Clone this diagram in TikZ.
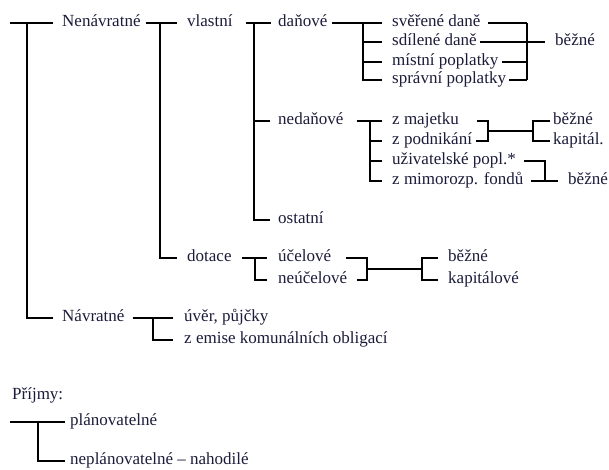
\documentclass[tikz,border=0pt]{standalone}
\usepackage{fontspec}
\setmainfont{Liberation Serif}
\usetikzlibrary{positioning,calc}
\definecolor{Ink}{HTML}{1B1B3A}
\tikzset{
  lbl/.style={anchor=west,inner sep=0pt,text height=10pt,text depth=4pt,text=Ink,
    font=\fontsize{17pt}{20pt}\selectfont},
  bar/.style={draw=black,line width=2.6pt},
  thinbar/.style={draw=black,line width=1.5pt},
  midbar/.style={draw=black,line width=2pt}
}
\begin{document}
\begin{tikzpicture}[x=1pt,y=-1pt]
    \useasboundingbox (0,0) rectangle (609,469);

    % texty
    \node[lbl] (nenavr) at (62,23) {Nenávratné};
    \node[lbl] (navr) at (62,318) {Návratné};
    \node[lbl] (vlastni) at (187,23) {vlastní};
    \node[lbl] (dotace) at (187,258) {dotace};
    \node[lbl] (uver) at (184,318) {úvěr, půjčky};
    \node[lbl] (emise) at (184,340) {z emise komunálních obligací};
    \node[lbl] (danove) at (278,23) {daňové};
    \node[lbl] (nedanove) at (278,121) {nedaňové};
    \node[lbl] (ostatni) at (278,220) {ostatní};
    \node[lbl] (ucelove) at (278,258) {účelové};
    \node[lbl] (neucelove) at (278,280) {neúčelové};
    \node[lbl] (sverene) at (392,23) {svěřené daně};
    \node[lbl] (sdilene) at (392,42) {sdílené daně};
    \node[lbl] (mistni) at (392,62) {místní poplatky};
    \node[lbl] (spravni) at (392,80) {správní poplatky};
    \node[lbl] (majetek) at (392,121) {z majetku};
    \node[lbl] (podnikani) at (392,141) {z podnikání};
    \node[lbl] (uzivatel) at (392,161) {uživatelské popl.*};
    \node[lbl] (mimorozp) at (392,181) {z mimorozp. fondů};
    \node[lbl] (bezneA) at (555,42) {běžné};
    \node[lbl] (bezneB) at (553,121) {běžné};
    \node[lbl] (kapital) at (553,141) {kapitál.};
    \node[lbl] (bezneC) at (568,181) {běžné};
    \node[lbl] (bezneD) at (448,258) {běžné};
    \node[lbl] (kapitalove) at (448,280) {kapitálové};
    \node[lbl] (prijmy) at (12,396) {Příjmy:};
    \node[lbl] (plan) at (70,422) {plánovatelné};
    \node[lbl] (neplan) at (70,461) {neplánovatelné – nahodilé};

    % hlavni strom
    \coordinate (r0) at (10,23); \coordinate (r1) at (27,23);
    \draw[bar] (r0) -- ([xshift=-9]nenavr.west);
    \draw[bar] (r1) |- ([xshift=-9]navr.west);

    \coordinate (v1) at (160,23);
    \draw[bar] ([xshift=5]nenavr.east) -- ([xshift=-10]vlastni.west);
    \draw[bar] (v1) |- ([xshift=-10]dotace.west);

    \coordinate (d1) at (254,23);
    \draw[bar] ([xshift=13]vlastni.east) -- ([xshift=-7]danove.west);
    \draw[bar] (d1) |- ([xshift=-8]ostatni.west);
    \draw[thinbar] (d1 |- nedanove.west) -- ([xshift=-8]nedanove.west);

    % danove
    \coordinate (t1) at (363,23); \coordinate (t2) at (527,23);
    \draw[bar] ([xshift=5]danove.east) -- ([xshift=-10]sverene.west);
    \foreach \n in {sdilene,mistni,spravni}
      \draw[bar] (t1) |- ([xshift=-10]\n.west);
    \draw[thinbar] ([xshift=7]sverene.east) -- (t2);
    \foreach \n in {sdilene,mistni,spravni}
      \draw[bar] ([xshift=3]\n.east) -- (t2 |- \n.west);
    \draw[bar] (t2) -- (t2 |- spravni.west);
    \draw[bar] (t2 |- sdilene.west) -- ([xshift=-10]bezneA.west);

    % nedanove
    \coordinate (n1) at (370,121);
    \draw[thinbar] ([xshift=13]nedanove.east) -- ([xshift=-10]majetek.west);
    \foreach \n in {podnikani,uzivatel,mimorozp}
      \draw[bar] (n1) |- ([xshift=-10]\n.west);
    \coordinate (n2) at (488,121); \coordinate (n3) at (533,121);
    \draw[bar] ([xshift=18]majetek.east) -- (n2) -- (n2 |- podnikani.west)
      -- ([xshift=4]podnikani.east);
    \draw[bar] ($(n2)!.5!(n2 |- podnikani.west)$) -- ($(n3)!.5!(n3 |- kapital.west)$);
    \draw[bar] ([xshift=-3]bezneB.west) -- (n3) -- (n3 |- kapital.west)
      -- ([xshift=-3]kapital.west);
    \coordinate (n4) at (545,161);
    \draw[bar] ([xshift=8]uzivatel.east) -- (n4) -- (n4 |- mimorozp.west);
    \draw[bar] ([xshift=7]mimorozp.east) -- ([xshift=-10]bezneC.west);

    % dotace
    \coordinate (u1) at (255,258);
    \draw[bar] ([xshift=10]dotace.east) -- ([xshift=-11]ucelove.west);
    \draw[bar] (u1) |- ([xshift=-11]neucelove.west);
    \coordinate (u2) at (367,258); \coordinate (u3) at (422,258);
    \draw[bar] ([xshift=15]ucelove.east) -- (u2) -- (u2 |- neucelove.west)
      -- ([xshift=10]neucelove.east);
    \draw[bar] ($(u2)!.5!(u2 |- neucelove.west)$) -- ($(u3)!.5!(u3 |- kapitalove.west)$);
    \draw[bar] ([xshift=-10]bezneD.west) -- (u3) -- (u3 |- kapitalove.west)
      -- ([xshift=-10]kapitalove.west);

    % navratne
    \coordinate (w1) at (153,318);
    \draw[bar] ([xshift=8]navr.east) -- ([xshift=-11]uver.west);
    \draw[bar] (w1) |- ([xshift=-11]emise.west);

    % prijmy
    \coordinate (p0) at (10,422); \coordinate (p1) at (38,422);
    \draw[midbar] (p0) -- ([xshift=-5]plan.west);
    \draw[midbar] (p1) |- ([xshift=-5]neplan.west);
\end{tikzpicture}
\end{document}
